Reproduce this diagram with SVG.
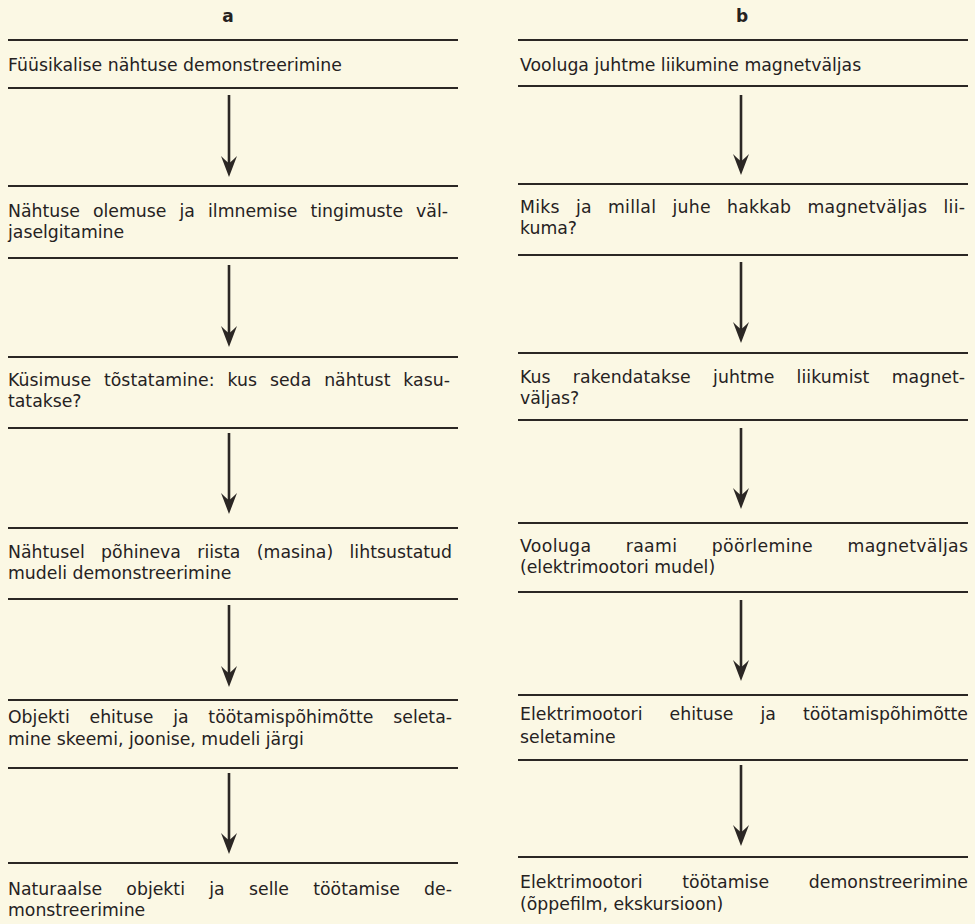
<svg xmlns="http://www.w3.org/2000/svg" width="975" height="924" viewBox="0 0 975 924">
<style>
text{font-family:"DejaVu Sans","Liberation Sans",sans-serif;font-size:17.3px;fill:#26221f}
.h{font-weight:bold;font-size:17px}
.rule{stroke:#2b2724;stroke-width:2;fill:none}
.arr{stroke:#2b2724;stroke-width:2.6;fill:none}
</style>
<defs>
<marker id="ah" markerUnits="userSpaceOnUse" markerWidth="24" markerHeight="20" viewBox="-22 -10 24 20" refX="-6" refY="0" orient="auto">
<path d="M1,0 L-20,-8 Q-14,-2 -13,0 Q-14,2 -20,8 Z" fill="#2b2724"/>
</marker>
</defs>
<rect width="975" height="924" fill="#fbf8e4"/>
<text class="h" x="228" y="22" text-anchor="middle">a</text>
<text class="h" x="742" y="22" text-anchor="middle">b</text>

<g id="a1"><line class="rule" x1="8" y1="40" x2="458" y2="40"/><line class="rule" x1="8" y1="88" x2="458" y2="88"/>
<text x="8" y="71">Füüsikalise nähtuse demonstreerimine</text></g>
<g id="a2"><line class="rule" x1="8" y1="186" x2="458" y2="186"/><line class="rule" x1="8" y1="258" x2="458" y2="258"/>
<text x="8" y="217" word-spacing="7.6" textLength="440" lengthAdjust="spacing">Nähtuse olemuse ja ilmnemise tingimuste väl-</text>
<text x="8" y="238">jaselgitamine</text></g>
<g id="a3"><line class="rule" x1="8" y1="357" x2="458" y2="357"/><line class="rule" x1="8" y1="428" x2="458" y2="428"/>
<text x="8" y="386" word-spacing="7.3" textLength="442" lengthAdjust="spacing">Küsimuse tõstatamine: kus seda nähtust kasu-</text>
<text x="8" y="407">tatakse?</text></g>
<g id="a4"><line class="rule" x1="8" y1="528" x2="458" y2="528"/><line class="rule" x1="8" y1="599" x2="458" y2="599"/>
<text x="8" y="558" word-spacing="10.9" textLength="444" lengthAdjust="spacing">Nähtusel põhineva riista (masina) lihtsustatud</text>
<text x="8" y="579">mudeli demonstreerimine</text></g>
<g id="a5"><line class="rule" x1="8" y1="700" x2="458" y2="700"/><line class="rule" x1="8" y1="768" x2="458" y2="768"/>
<text x="8" y="723" word-spacing="14.3" textLength="444" lengthAdjust="spacing">Objekti ehituse ja töötamispõhimõtte seleta-</text>
<text x="8" y="745">mine skeemi, joonise, mudeli järgi</text></g>
<g id="a6"><line class="rule" x1="8" y1="863" x2="458" y2="863"/>
<text x="8" y="895" word-spacing="18.8" textLength="444" lengthAdjust="spacing">Naturaalse objekti ja selle töötamise de-</text>
<text x="8" y="916">monstreerimine</text></g>

<g id="b1"><line class="rule" x1="518" y1="40" x2="968" y2="40"/><line class="rule" x1="518" y1="86" x2="968" y2="86"/>
<text x="520" y="71">Vooluga juhtme liikumine magnetväljas</text></g>
<g id="b2"><line class="rule" x1="518" y1="184" x2="968" y2="184"/><line class="rule" x1="518" y1="255" x2="968" y2="255"/>
<text x="520" y="213" word-spacing="10.4" textLength="445" lengthAdjust="spacing">Miks ja millal juhe hakkab magnetväljas lii-</text>
<text x="520" y="234">kuma?</text></g>
<g id="b3"><line class="rule" x1="518" y1="353" x2="968" y2="353"/><line class="rule" x1="518" y1="420" x2="968" y2="420"/>
<text x="520" y="383" word-spacing="16.7" textLength="445" lengthAdjust="spacing">Kus rakendatakse juhtme liikumist magnet-</text>
<text x="520" y="404">väljas?</text></g>
<g id="b4"><line class="rule" x1="518" y1="523" x2="968" y2="523"/><line class="rule" x1="518" y1="592" x2="968" y2="592"/>
<text x="520" y="552" word-spacing="28.6" textLength="448" lengthAdjust="spacing">Vooluga raami pöörlemine magnetväljas</text>
<text x="520" y="573">(elektrimootori mudel)</text></g>
<g id="b5"><line class="rule" x1="518" y1="695" x2="968" y2="695"/><line class="rule" x1="518" y1="760" x2="968" y2="760"/>
<text x="520" y="720" word-spacing="21.6" textLength="448" lengthAdjust="spacing">Elektrimootori ehituse ja töötamispõhimõtte</text>
<text x="520" y="743">seletamine</text></g>
<g id="b6"><line class="rule" x1="518" y1="857" x2="968" y2="857"/>
<text x="520" y="888" word-spacing="34.3" textLength="448" lengthAdjust="spacing">Elektrimootori töötamise demonstreerimine</text>
<text x="520" y="910">(õppefilm, ekskursioon)</text></g>

<g id="connectors">
<line class="arr" x1="229" y1="95" x2="229" y2="170" marker-end="url(#ah)"/>
<line class="arr" x1="229" y1="265" x2="229" y2="340" marker-end="url(#ah)"/>
<line class="arr" x1="229" y1="433" x2="229" y2="507" marker-end="url(#ah)"/>
<line class="arr" x1="229" y1="605" x2="229" y2="680" marker-end="url(#ah)"/>
<line class="arr" x1="229" y1="773" x2="229" y2="847" marker-end="url(#ah)"/>
<line class="arr" x1="741" y1="95" x2="741" y2="168" marker-end="url(#ah)"/>
<line class="arr" x1="741" y1="262" x2="741" y2="336" marker-end="url(#ah)"/>
<line class="arr" x1="741" y1="428" x2="741" y2="502" marker-end="url(#ah)"/>
<line class="arr" x1="741" y1="600" x2="741" y2="674" marker-end="url(#ah)"/>
<line class="arr" x1="741" y1="765" x2="741" y2="839" marker-end="url(#ah)"/>
</g>
</svg>
